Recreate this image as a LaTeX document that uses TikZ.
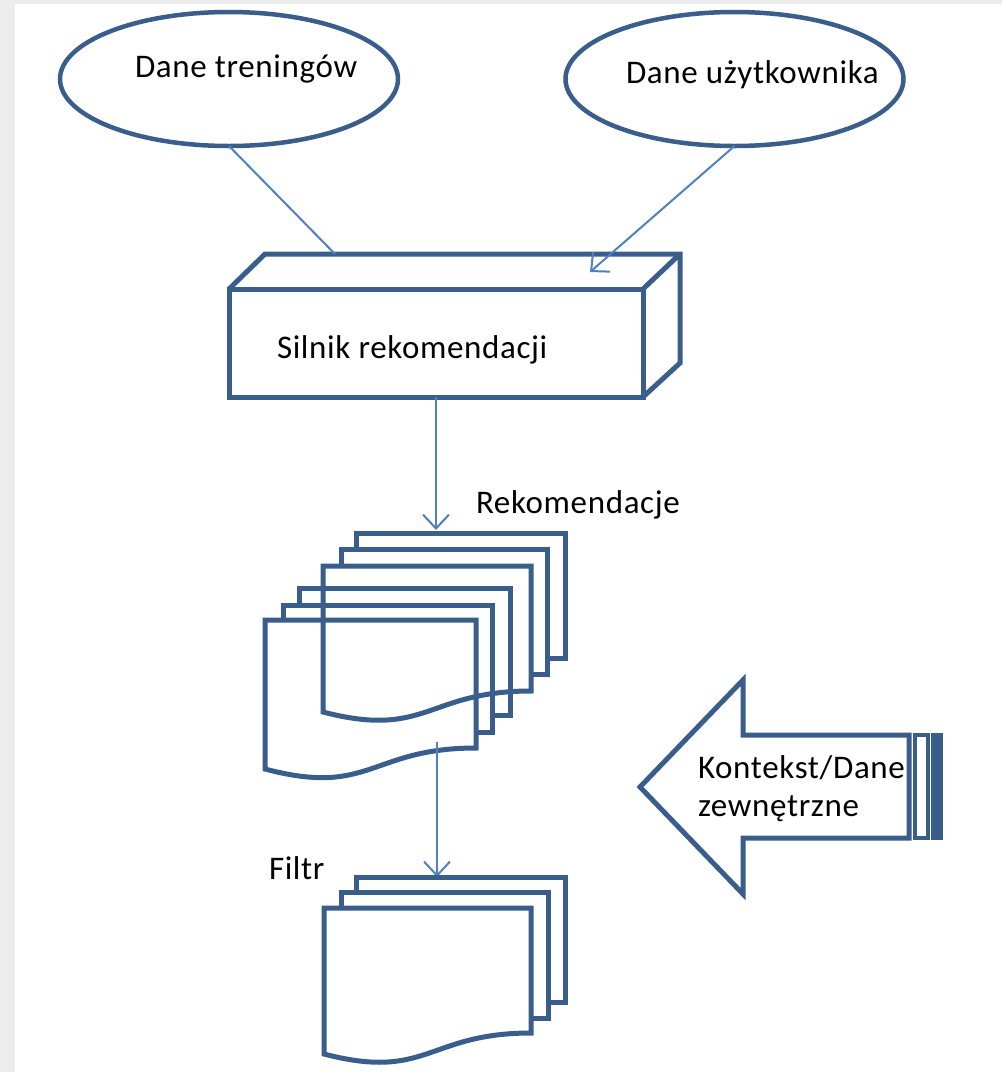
\documentclass[tikz,border=0pt]{standalone}
\usepackage{fontspec}
\setmainfont{Carlito}[LetterSpace=2]
\usetikzlibrary{shapes.geometric,arrows.meta}
\definecolor{dk}{RGB}{58,94,140}
\definecolor{cn}{RGB}{79,129,189}
\definecolor{bg}{RGB}{236,236,236}
\tikzset{
  shp/.style={draw=dk,line width=5pt,line join=miter},
  stripe/.style={draw=dk,line width=3.5pt},
  oval/.style={ellipse,draw=dk,line width=4.5pt,minimum width=338pt,minimum height=134pt,inner sep=0pt,outer sep=0pt},
  conn/.style={draw=cn,line width=2pt},
  arr/.style={conn,-{Straight Barb[length=14pt,width=26pt,line width=2pt]}},
  lbl/.style={anchor=base west,inner sep=0pt,outer sep=0pt,font=\fontsize{33}{39}\selectfont},
}
\begin{document}
\begin{tikzpicture}[x=1pt,y=-1pt]
\useasboundingbox (0,0) rectangle (1002,1072);
\fill[bg] (0,0) rectangle (1002,1072);
\fill[white] (15,4) rectangle (1002,1072);

% ellipses
\node[oval] (e1) at (229,79) {};
\node[oval] (e2) at (734.5,79) {};
\node[lbl] (l1) at (135,77) {Dane treningów};
\node[lbl] (l2) at (626,83) {Dane użytkownika};

% 3D box
\node[shp,rectangle,minimum width=414pt,minimum height=108pt,inner sep=0pt,outer sep=0pt] (box) at (436,343) {};
\draw[shp] (box.north west) -- (265,254) -- (680,254) -- (680,363) -- (box.south east);
\draw[shp] (680,254) -- (box.north east);
\node[lbl] (l3) at (277,358) {Silnik rekomendacji};
\coordinate (t1) at (335,254);
\coordinate (t2) at (590,272);

% connectors from ellipses
\draw[conn] (e1.south) -- (t1);
\draw[arr] (e2.south) -- (t2);

% arrow to recommendations
\coordinate (r1) at (436,530);
\draw[arr] (box.south) -- (r1);
\node[lbl] (l4) at (476,513) {Rekomendacje};

% recommendation stack, back set
\draw[shp] (356,549) -- (356,533) -- (565,533) -- (565,658) -- (547,658);
\draw[shp] (341,566) -- (341,549) -- (547,549) -- (547,674) -- (531,674);
\draw[shp] (323,566) -- (531,566) -- (531,691) .. controls (427,691) and (427,739) .. (323,712) -- cycle;
% front set
\draw[shp] (299,605) -- (299,588) -- (510,588) -- (510,715) -- (492,715);
\draw[shp] (283,620) -- (283,605) -- (492,605) -- (492,732) -- (476,732);
\draw[shp] (265,620) -- (476,620) -- (476,748) .. controls (370.5,748) and (370.5,797) .. (265,769) -- cycle;

% arrow to filter
\coordinate (d1) at (437,742);
\coordinate (f1) at (437,877);
\draw[arr] (d1) -- (f1);
\node[lbl] (l5) at (269,879) {Filtr};

% filter stack
\draw[shp] (356,892) -- (356,877) -- (565,877) -- (565,1002) -- (548,1002);
\draw[shp] (341,908) -- (341,892) -- (548,892) -- (548,1018) -- (531,1018);
\draw[shp] (324,908) -- (531,908) -- (531,1033) .. controls (427.5,1033) and (427.5,1081) .. (324,1054) -- cycle;

% striped arrow (context)
\draw[shp] (640,787) -- (743,680) -- (743,735) -- (909,735) -- (909,838) -- (743,838) -- (743,894) -- cycle;
\draw[stripe] (915,735) rectangle (928,838);
\draw[stripe,fill=dk] (933,735) rectangle (941,838);
\node[lbl] (l6) at (698,778) {Kontekst/Dane};
\node[lbl] (l7) at (698,816) {zewnętrzne};
\end{tikzpicture}
\end{document}
